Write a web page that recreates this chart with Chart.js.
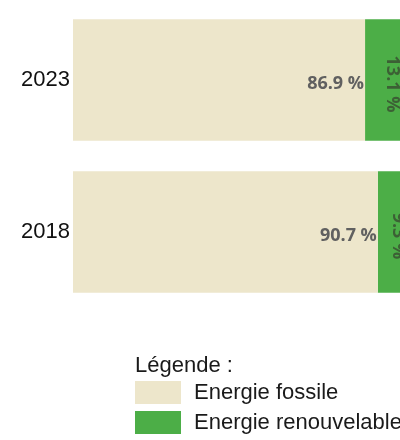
<!DOCTYPE html>
<html>
<head>
<meta charset="utf-8">
<script src="https://cdn.jsdelivr.net/npm/chart.js@4"></script>
<style>
  html, body { margin: 0; padding: 0; background: #fff; }
  #wrap { width: 400px; height: 440px; }
</style>
</head>
<body>
<div id="wrap"><canvas id="energyChart"></canvas></div>
<script>
// data
var years = ['2023', '2018'];
var fossile = [86.9, 90.7];
var renouvelable = [13.1, 9.3];
var seriesNames = ['Energie fossile', 'Energie renouvelable'];
var legendTitle = 'Légende :';

var beige = '#ede6cb';
var green = '#4cae47';

// percentage labels on the bars
var barLabels = {
  id: 'barLabels',
  afterDatasetsDraw: function(chart) {
    var ctx = chart.ctx;
    var x = chart.scales.x;
    ctx.save();
    ctx.font = 'bold 18px "Open Sans", sans-serif';
    chart.getDatasetMeta(0).data.forEach(function(bar, i) {
      ctx.fillStyle = '#606060';
      ctx.textAlign = 'right';
      ctx.textBaseline = 'middle';
      ctx.fillText(fossile[i].toFixed(1) + ' %', bar.x - 1, bar.y + 4);
    });
    ctx.fillStyle = '#3c6035';
    chart.getDatasetMeta(1).data.forEach(function(bar, i) {
      var cx = x.getPixelForValue(fossile[i] + renouvelable[i] / 2) + 5;
      ctx.save();
      ctx.translate(cx, bar.y + 4);
      ctx.rotate(Math.PI / 2);
      ctx.textAlign = 'center';
      ctx.textBaseline = 'middle';
      ctx.fillText(renouvelable[i].toFixed(1) + ' %', 0, 0);
      ctx.restore();
    });
    ctx.restore();
  }
};

// legend block under the chart
var legendBlock = {
  id: 'legendBlock',
  afterDraw: function(chart) {
    var ctx = chart.ctx;
    var left = 135;
    ctx.save();
    ctx.font = '22px "Liberation Sans", Arial, sans-serif';
    ctx.fillStyle = '#1a1a1a';
    ctx.textBaseline = 'middle';
    ctx.fillText(legendTitle, left, 366);
    chart.data.datasets.forEach(function(ds, i) {
      var y = 381 + i * 30;
      ctx.fillStyle = ds.backgroundColor;
      ctx.fillRect(left, y, 46, 23);
      ctx.fillStyle = '#1a1a1a';
      ctx.fillText(seriesNames[i], left + 59, y + 12);
    });
    ctx.restore();
  }
};

var ctx = document.getElementById('energyChart').getContext('2d');
var energyChart = new Chart(ctx, {
  type: 'bar',
  data: {
    labels: years,
    datasets: [{
      label: seriesNames[0],
      data: fossile,
      backgroundColor: beige,
      barPercentage: 0.8,
      categoryPercentage: 1
    }, {
      label: seriesNames[1],
      data: renouvelable,
      backgroundColor: green,
      barPercentage: 0.8,
      categoryPercentage: 1
    }]
  },
  options: {
    indexAxis: 'y',
    responsive: true,
    maintainAspectRatio: false,
    animation: false,
    layout: {
      padding: { top: 4, bottom: 132, right: 0, left: 0 }
    },
    scales: {
      x: {
        stacked: true,
        display: false,
        min: 0,
        max: 97.3
      },
      y: {
        stacked: true,
        grid: { display: false, drawTicks: false },
        border: { display: false },
        ticks: {
          color: '#111',
          padding: 3,
          font: { family: '"Liberation Sans", Arial, sans-serif', size: 22 }
        },
        afterFit: function(scale) {
          scale.width = 73;
          scale.paddingTop = 0;
          scale.paddingBottom = 0;
        }
      }
    },
    plugins: {
      legend: { display: false },
      tooltip: { enabled: false }
    }
  },
  plugins: [barLabels, legendBlock]
});
</script>
</body>
</html>
